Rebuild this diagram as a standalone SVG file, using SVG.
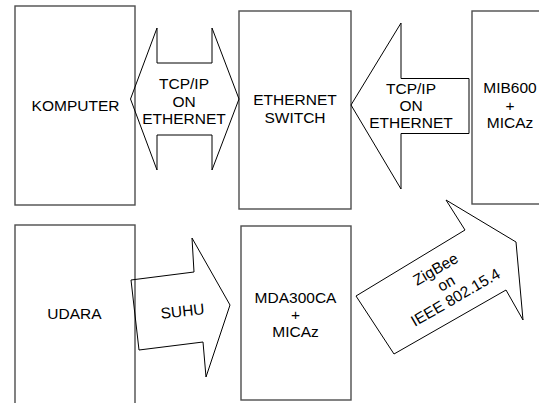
<svg xmlns="http://www.w3.org/2000/svg" width="539" height="403" viewBox="0 0 539 403">
<style>
.box{fill:#fff;stroke:#4d4d4d;stroke-width:1.4}
.arr{fill:none;stroke:#000;stroke-width:1}
text{font-family:"Liberation Sans",Arial,sans-serif;font-size:15.5px;fill:#000;text-anchor:middle}
</style>
<rect width="539" height="403" fill="#fff"/>
<g id="komputer">
<rect class="box" x="15" y="6" width="120" height="199"/>
<text x="75.5" y="111">KOMPUTER</text>
</g>
<g id="ethernet-switch">
<rect class="box" x="239" y="11" width="112" height="198"/>
<text x="295" y="105">ETHERNET</text>
<text x="295" y="123">SWITCH</text>
</g>
<g id="mib600">
<rect class="box" x="472" y="11" width="80" height="193"/>
<text x="510" y="93">MIB600</text>
<text x="510" y="110.5">+</text>
<text x="510" y="128">MICAz</text>
</g>
<g id="udara">
<rect class="box" x="15" y="225" width="120" height="190"/>
<text x="74.5" y="319">UDARA</text>
</g>
<g id="mda300ca">
<rect class="box" x="241" y="226" width="110" height="174"/>
<text x="295.5" y="303">MDA300CA</text>
<text x="295.5" y="320">+</text>
<text x="295.5" y="337">MICAz</text>
</g>
<g id="connectors">
<g id="conn-komputer-switch">
<polygon class="arr" points="130.5,99 157,28 157,63 212,63 212,28 239,99 212,170 212,135 157,135 157,170"/>
<text x="184" y="89">TCP/IP</text>
<text x="184" y="106.5">ON</text>
<text x="184" y="124">ETHERNET</text>
</g>
<g id="conn-mib600-switch">
<polygon class="arr" points="351,105 401,23 401,78.5 469,78.5 469,133.5 401,133.5 401,189"/>
<text x="411" y="93.5">TCP/IP</text>
<text x="411" y="110.5">ON</text>
<text x="411" y="127.5">ETHERNET</text>
</g>
<g id="conn-udara-mda">
<polygon class="arr" points="131,280 194,272 192,238 230,305 206,377 203,342 139,350"/>
<text transform="translate(182.5,311) rotate(-6)" x="0" y="5.5">SUHU</text>
</g>
<g id="conn-mda-mib600">
<polygon class="arr" points="356,296 465,230 446,200 516,242 523,320 506,290 394,354"/>
<g transform="translate(446,283) rotate(-30)">
<text x="-2" y="-12">ZigBee</text>
<text x="0" y="5.5">on</text>
<text x="1" y="22.5">IEEE 802.15.4</text>
</g>
</g>
</g>
</svg>
